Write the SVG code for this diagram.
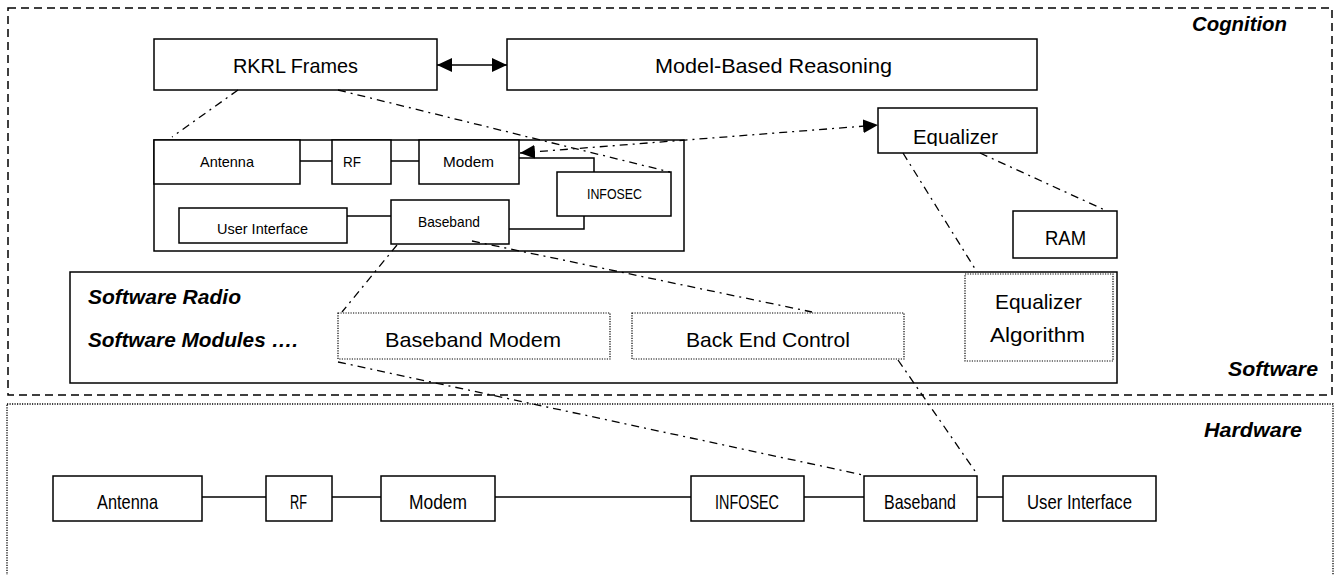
<svg xmlns="http://www.w3.org/2000/svg" width="1338" height="575" viewBox="0 0 1338 575">
  <style>
    .box{fill:#fff;stroke:#000;stroke-width:1.5}
    .dotbox{fill:#fff;stroke:#000;stroke-width:1.2;stroke-dasharray:1.2 1.3}
    .t{font-family:"Liberation Sans",Arial,sans-serif;fill:#000;text-anchor:middle}
    .L{font-size:21px}
    .S{font-size:14.5px}
    .lab{font-family:"Liberation Sans",Arial,sans-serif;font-weight:bold;font-style:italic;font-size:20px;fill:#000}
    .link{stroke:#000;stroke-width:1.5;fill:none}
    .dd{stroke:#000;stroke-width:1.3;fill:none;stroke-dasharray:8 5 2 5}
  </style>
  <defs>
    <marker id="head" markerUnits="userSpaceOnUse" markerWidth="16" markerHeight="14" refX="15" refY="7" orient="auto-start-reverse">
      <path d="M0,0 L15,7 L0,14 Z" fill="#000"/>
    </marker>
    <clipPath id="eqClip"><rect x="879" y="109" width="157" height="37"/></clipPath>
  </defs>

  <!-- layer frames -->
  <g id="cognition-software-layer">
    <rect x="8" y="8" width="1324" height="387" fill="none" stroke="#000" stroke-width="1.5" stroke-dasharray="8 5"/>
    <text class="lab" x="1287" y="31" text-anchor="end" textLength="95" lengthAdjust="spacingAndGlyphs">Cognition</text>
    <text class="lab" x="1318" y="376" text-anchor="end" textLength="90" lengthAdjust="spacingAndGlyphs">Software</text>
  </g>
  <g id="hardware-layer">
    <rect x="7" y="404" width="1326" height="190" fill="none" stroke="#000" stroke-width="1.3" stroke-dasharray="1.2 1.3"/>
    <text class="lab" x="1302" y="437" text-anchor="end" textLength="98" lengthAdjust="spacingAndGlyphs">Hardware</text>
  </g>

  <!-- cognition nodes -->
  <g id="rkrl-frames">
    <rect class="box" x="154" y="39" width="283" height="51"/>
    <text class="t L" x="295.5" y="73" textLength="125" lengthAdjust="spacingAndGlyphs">RKRL Frames</text>
  </g>
  <g id="model-based-reasoning">
    <rect class="box" x="507" y="39" width="530" height="51"/>
    <text class="t L" x="773.5" y="73" textLength="237" lengthAdjust="spacingAndGlyphs">Model-Based Reasoning</text>
  </g>
  <g id="equalizer">
    <rect class="box" x="878" y="108" width="159" height="45"/>
    <text class="t L" x="955.5" y="144" textLength="85" lengthAdjust="spacingAndGlyphs" clip-path="url(#eqClip)">Equalizer</text>
  </g>
  <g id="ram">
    <rect class="box" x="1013" y="211" width="104" height="47"/>
    <text class="t L" x="1065.5" y="245" textLength="41" lengthAdjust="spacingAndGlyphs">RAM</text>
  </g>

  <!-- radio model inside the cognition layer -->
  <g id="radio-model">
    <rect class="box" x="154" y="140" width="530" height="111"/>
  </g>
  <g id="model-links">
    <line class="link" x1="300" y1="161" x2="332" y2="161"/>
    <line class="link" x1="391" y1="161" x2="419" y2="161"/>
    <polyline class="link" points="519,158 594,158 594,172"/>
    <line class="link" x1="347" y1="216" x2="391" y2="216"/>
    <polyline class="link" points="509,229 584,229 584,216"/>
  </g>
  <g id="model-antenna">
    <rect class="box" x="154" y="140" width="146" height="44"/>
    <text class="t S" x="227" y="167" textLength="54" lengthAdjust="spacingAndGlyphs">Antenna</text>
  </g>
  <g id="model-rf">
    <rect class="box" x="332" y="140" width="59" height="44"/>
    <text class="t S" x="352" y="167" textLength="18" lengthAdjust="spacingAndGlyphs">RF</text>
  </g>
  <g id="model-modem">
    <rect class="box" x="419" y="140" width="100" height="44"/>
    <text class="t S" x="468.5" y="167" textLength="51" lengthAdjust="spacingAndGlyphs">Modem</text>
  </g>
  <g id="model-infosec">
    <rect class="box" x="557" y="172" width="114" height="44"/>
    <text class="t S" x="614.5" y="199" textLength="55" lengthAdjust="spacingAndGlyphs">INFOSEC</text>
  </g>
  <g id="model-baseband">
    <rect class="box" x="391" y="200" width="118" height="44"/>
    <text class="t S" x="449" y="227" textLength="62" lengthAdjust="spacingAndGlyphs">Baseband</text>
  </g>
  <g id="model-user-interface">
    <rect class="box" x="179" y="208" width="168" height="35"/>
    <text class="t S" x="262.5" y="234" textLength="91" lengthAdjust="spacingAndGlyphs">User Interface</text>
  </g>

  <!-- software radio -->
  <g id="software-radio">
    <rect class="box" x="70" y="272" width="1047" height="111"/>
    <text class="lab" x="88" y="304" textLength="153" lengthAdjust="spacingAndGlyphs">Software Radio</text>
    <text class="lab" x="88" y="347" textLength="210" lengthAdjust="spacingAndGlyphs">Software Modules ….</text>
  </g>
  <g id="baseband-modem">
    <rect class="dotbox" x="338" y="313" width="272" height="46"/>
    <text class="t L" x="473" y="347" textLength="176" lengthAdjust="spacingAndGlyphs">Baseband Modem</text>
  </g>
  <g id="back-end-control">
    <rect class="dotbox" x="632" y="313" width="272" height="46"/>
    <text class="t L" x="768" y="347" textLength="164" lengthAdjust="spacingAndGlyphs">Back End Control</text>
  </g>
  <g id="equalizer-algorithm">
    <rect class="dotbox" x="965" y="274" width="148" height="87"/>
    <text class="t L" x="1038.5" y="309" textLength="87" lengthAdjust="spacingAndGlyphs">Equalizer</text>
    <text class="t L" x="1037.5" y="342" textLength="95" lengthAdjust="spacingAndGlyphs">Algorithm</text>
  </g>

  <!-- hardware chain -->
  <g id="hardware-links">
    <line class="link" x1="202" y1="497" x2="266" y2="497"/>
    <line class="link" x1="332" y1="497" x2="381" y2="497"/>
    <line class="link" x1="495" y1="497" x2="691" y2="497"/>
    <line class="link" x1="804" y1="497" x2="864" y2="497"/>
    <line class="link" x1="977" y1="497" x2="1003" y2="497"/>
  </g>
  <g id="hw-antenna">
    <rect class="box" x="53" y="476" width="149" height="45"/>
    <text class="t L" x="127.5" y="509" textLength="61" lengthAdjust="spacingAndGlyphs">Antenna</text>
  </g>
  <g id="hw-rf">
    <rect class="box" x="266" y="476" width="66" height="45"/>
    <text class="t L" x="298.5" y="509" textLength="17" lengthAdjust="spacingAndGlyphs">RF</text>
  </g>
  <g id="hw-modem">
    <rect class="box" x="381" y="476" width="114" height="45"/>
    <text class="t L" x="438" y="509" textLength="58" lengthAdjust="spacingAndGlyphs">Modem</text>
  </g>
  <g id="hw-infosec">
    <rect class="box" x="691" y="476" width="113" height="45"/>
    <text class="t L" x="747" y="509" textLength="64" lengthAdjust="spacingAndGlyphs">INFOSEC</text>
  </g>
  <g id="hw-baseband">
    <rect class="box" x="864" y="476" width="113" height="45"/>
    <text class="t L" x="920" y="509" textLength="72" lengthAdjust="spacingAndGlyphs">Baseband</text>
  </g>
  <g id="hw-user-interface">
    <rect class="box" x="1003" y="476" width="153" height="45"/>
    <text class="t L" x="1079.5" y="509" textLength="105" lengthAdjust="spacingAndGlyphs">User Interface</text>
  </g>

  <!-- connectors -->
  <g id="connectors">
    <line class="link" x1="437" y1="65" x2="507" y2="65" marker-start="url(#head)" marker-end="url(#head)"/>
    <line class="dd" x1="238" y1="90" x2="172" y2="137"/>
    <line class="dd" x1="338" y1="90" x2="670" y2="172"/>
    <line class="dd" x1="520" y1="153" x2="878" y2="125" marker-start="url(#head)" marker-end="url(#head)"/>
    <line class="dd" x1="903" y1="153" x2="977" y2="272"/>
    <line class="dd" x1="980" y1="153" x2="1107" y2="211"/>
    <line class="dd" x1="472" y1="241" x2="812" y2="312"/>
    <line class="dd" x1="397" y1="245" x2="342" y2="312"/>
    <line class="dd" x1="338" y1="362" x2="863" y2="475"/>
    <line class="dd" x1="898" y1="360" x2="977" y2="474"/>
  </g>
</svg>
